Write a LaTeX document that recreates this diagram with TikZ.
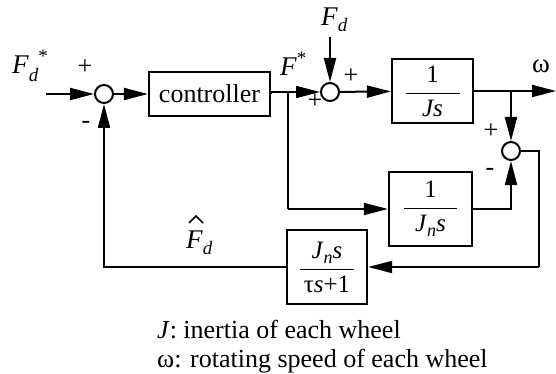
\documentclass[tikz,border=0pt]{standalone}
\usepackage{fontspec}
\setmainfont{Liberation Serif}
\usetikzlibrary{arrows.meta,calc}
\newcommand{\fsz}[1]{\fontsize{#1}{#1}\selectfont}
\newcommand{\myfrac}[3]{$\displaystyle\frac{\makebox[#1]{#2}}{\makebox[#1]{#3}}$}
\begin{document}
\begin{tikzpicture}[x=1pt,y=-1pt,
  blk/.style={draw, line width=2.2pt, inner sep=0pt, font=\fsz{25}},
  sumc/.style={draw, circle, line width=2pt, minimum size=18pt, inner sep=0pt},
  sig/.style={line width=2pt},
  arr/.style={sig, -{Triangle[length=24pt,width=12pt]}},
  lab/.style={inner sep=0pt, font=\fsz{27}},
  sgn/.style={inner sep=0pt, font=\fsz{26}},
  captxt/.style={inner sep=0pt, font=\fsz{26}, anchor=base west}]
\useasboundingbox (0,0) rectangle (556,374);
% summing junctions
\node[sumc] (s1) at (104,94) {};
\node[sumc] (s3) at (330,92) {};
\node[sumc] (s2) at (511,151) {};
% blocks
\node[blk, minimum width=121pt, minimum height=44pt, font=\fsz{26}] (ctl) at (209.5,94) {controller};
\node[blk, minimum width=81pt, minimum height=64pt] (pl) at (432.5,91) {\myfrac{54pt}{1}{\textit{Js}}};
\node[blk, minimum width=83pt, minimum height=74pt] (nm) at (430.5,209) {\myfrac{53pt}{1}{\textit{J}\raisebox{-5pt}{\fsz{18}\textit{n}}\textit{s}}};
\node[blk, minimum width=80pt, minimum height=74pt] (fl) at (327,267) {\myfrac{54pt}{\textit{J}\raisebox{-5pt}{\fsz{18}\textit{n}}\textit{s}}{τ\textit{s}+1}};
% coordinates
\coordinate (in) at (46,94);
\coordinate (fdtop) at (330,37);
\coordinate (brF) at (288,93);
\coordinate (brFd) at (288,209);
\coordinate (omg) at (556,91);
\coordinate (brw) at (511,91);
\coordinate (nmo) at (511,209);
\coordinate (r1) at (539,151);
\coordinate (r2) at (539,267);
\coordinate (l1) at (104,267);
% connectors
\draw[arr] (in) -- (s1);
\draw[arr] (s1) -- (ctl);
\draw[arr] (ctl.east |- s3) -- (s3);
\draw[sig] (ctl.east) -- (ctl.east |- s3);
\draw[arr] (fdtop) -- (s3);
\draw[arr] (s3) -- (pl);
\draw[arr] (pl.east) -- (omg);
\draw[arr] (brw) -- (s2);
\draw[sig] (brF |- s3) -- (brFd);
\draw[arr] (brFd) -- (nm.west);
\draw[arr] (nm.east |- nmo) -- (nmo) -- (s2);
\draw[sig] (s2) -- (r1) -- (r2);
\draw[arr] (r2) -- (fl.east);
\draw[arr] (fl.west) -- (l1) -- (s1);
% labels
\node[lab, anchor=base west] (lfds) at (12,74) {\textit{F}\raisebox{-8pt}{\fsz{19}\textit{d}}\raisebox{11pt}{\fsz{19}*}};
\node[sgn] (p1) at (85,67) {+};
\node[sgn] (m1) at (86,125) {-};
\node[lab, anchor=base west] (lfs) at (280,76) {\textit{F}\raisebox{11pt}{\fsz{19}*}};
\node[lab, anchor=base west] (lfd) at (321,26) {\textit{F}\raisebox{-6pt}{\fsz{19}\textit{d}}};
\node[sgn] (p3a) at (351,76) {+};
\node[sgn] (p3b) at (315,101) {+};
\node[lab] (lw) at (541,66) {ω};
\node[sgn] (p2) at (491,131) {+};
\node[sgn] (m2) at (490,172) {-};
\node[lab, anchor=base west] (lfh) at (186,248) {\textit{F}\raisebox{-6pt}{\fsz{19}\textit{d}}};
\coordinate (hatl) at (189,223);
\coordinate (hatt) at (196,216);
\coordinate (hatr) at (203,223);
\draw[line width=1.6pt] (hatl) -- (hatt) -- (hatr);
\node[captxt] (t1) at (157,338) {\textit{J}: inertia of each wheel};
\node[captxt] (t2) at (157,367) {ω: rotating speed of each wheel};
\end{tikzpicture}
\end{document}
